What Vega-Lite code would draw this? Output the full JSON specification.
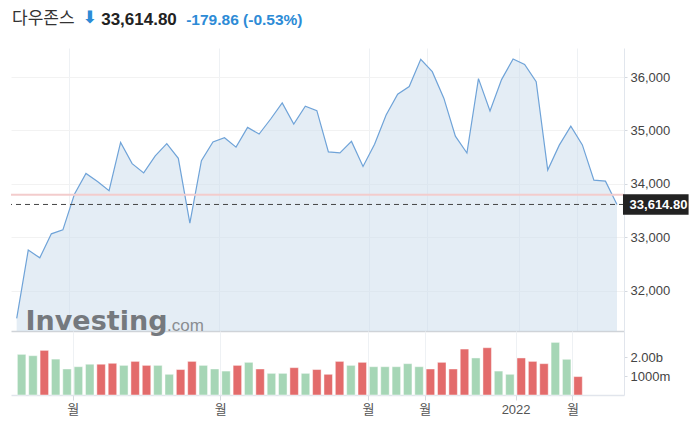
{
  "$schema": "https://vega.github.io/schema/vega-lite/v6.json",
  "padding": {"left": 10, "top": 8, "right": 5, "bottom": 5},
  "background": "white",
  "config": {
    "view": {"stroke": null},
    "font": "Liberation Sans",
    "axis": {"labelFont": "Liberation Sans", "labelFontSize": 13, "labelColor": "#555", "tickColor": "#d5d9df", "domainColor": "#e1e5ec"}
  },
  "title": {"text": "다우존스", "anchor": "start", "font": "Noto Sans CJK KR", "fontSize": 17, "fontWeight": "normal", "color": "#333", "dx": 2, "dy": 20, "offset": 0},
  "datasets": {
    "dow": [
      {"date": "2021-02-28T00:00:00", "close": 31480, "vol": 2140000000, "d": "up"},
      {"date": "2021-03-07T00:00:00", "close": 32760, "vol": 2070000000, "d": "up"},
      {"date": "2021-03-14T00:00:00", "close": 32615, "vol": 2350000000, "d": "down"},
      {"date": "2021-03-21T00:00:00", "close": 33065, "vol": 1890000000, "d": "up"},
      {"date": "2021-03-28T00:00:00", "close": 33140, "vol": 1370000000, "d": "up"},
      {"date": "2021-04-04T00:00:00", "close": 33805, "vol": 1490000000, "d": "up"},
      {"date": "2021-04-11T00:00:00", "close": 34195, "vol": 1620000000, "d": "up"},
      {"date": "2021-04-18T00:00:00", "close": 34043, "vol": 1620000000, "d": "down"},
      {"date": "2021-04-25T00:00:00", "close": 33873, "vol": 1670000000, "d": "down"},
      {"date": "2021-05-02T00:00:00", "close": 34777, "vol": 1560000000, "d": "up"},
      {"date": "2021-05-09T00:00:00", "close": 34380, "vol": 1770000000, "d": "down"},
      {"date": "2021-05-16T00:00:00", "close": 34205, "vol": 1560000000, "d": "down"},
      {"date": "2021-05-23T00:00:00", "close": 34525, "vol": 1560000000, "d": "up"},
      {"date": "2021-05-30T00:00:00", "close": 34753, "vol": 1090000000, "d": "up"},
      {"date": "2021-06-06T00:00:00", "close": 34478, "vol": 1340000000, "d": "down"},
      {"date": "2021-06-13T00:00:00", "close": 33265, "vol": 1770000000, "d": "down"},
      {"date": "2021-06-20T00:00:00", "close": 34435, "vol": 1560000000, "d": "up"},
      {"date": "2021-06-27T00:00:00", "close": 34787, "vol": 1370000000, "d": "up"},
      {"date": "2021-07-04T00:00:00", "close": 34865, "vol": 1260000000, "d": "up"},
      {"date": "2021-07-11T00:00:00", "close": 34688, "vol": 1560000000, "d": "down"},
      {"date": "2021-07-18T00:00:00", "close": 35058, "vol": 1720000000, "d": "up"},
      {"date": "2021-07-25T00:00:00", "close": 34934, "vol": 1370000000, "d": "down"},
      {"date": "2021-08-01T00:00:00", "close": 35215, "vol": 1140000000, "d": "up"},
      {"date": "2021-08-08T00:00:00", "close": 35517, "vol": 1140000000, "d": "up"},
      {"date": "2021-08-15T00:00:00", "close": 35120, "vol": 1440000000, "d": "down"},
      {"date": "2021-08-22T00:00:00", "close": 35456, "vol": 1140000000, "d": "up"},
      {"date": "2021-08-29T00:00:00", "close": 35372, "vol": 1340000000, "d": "down"},
      {"date": "2021-09-05T00:00:00", "close": 34600, "vol": 1090000000, "d": "down"},
      {"date": "2021-09-12T00:00:00", "close": 34580, "vol": 1770000000, "d": "down"},
      {"date": "2021-09-19T00:00:00", "close": 34796, "vol": 1560000000, "d": "up"},
      {"date": "2021-09-26T00:00:00", "close": 34326, "vol": 1720000000, "d": "down"},
      {"date": "2021-10-03T00:00:00", "close": 34742, "vol": 1490000000, "d": "up"},
      {"date": "2021-10-10T00:00:00", "close": 35290, "vol": 1490000000, "d": "up"},
      {"date": "2021-10-17T00:00:00", "close": 35680, "vol": 1490000000, "d": "up"},
      {"date": "2021-10-24T00:00:00", "close": 35822, "vol": 1650000000, "d": "up"},
      {"date": "2021-10-31T00:00:00", "close": 36332, "vol": 1490000000, "d": "up"},
      {"date": "2021-11-07T00:00:00", "close": 36102, "vol": 1370000000, "d": "down"},
      {"date": "2021-11-14T00:00:00", "close": 35605, "vol": 1720000000, "d": "down"},
      {"date": "2021-11-21T00:00:00", "close": 34893, "vol": 1370000000, "d": "down"},
      {"date": "2021-11-28T00:00:00", "close": 34578, "vol": 2420000000, "d": "down"},
      {"date": "2021-12-05T00:00:00", "close": 35972, "vol": 1950000000, "d": "up"},
      {"date": "2021-12-12T00:00:00", "close": 35367, "vol": 2490000000, "d": "down"},
      {"date": "2021-12-19T00:00:00", "close": 35953, "vol": 1260000000, "d": "up"},
      {"date": "2021-12-26T00:00:00", "close": 36340, "vol": 1090000000, "d": "up"},
      {"date": "2022-01-02T00:00:00", "close": 36237, "vol": 1950000000, "d": "down"},
      {"date": "2022-01-09T00:00:00", "close": 35915, "vol": 1770000000, "d": "down"},
      {"date": "2022-01-16T00:00:00", "close": 34258, "vol": 1650000000, "d": "down"},
      {"date": "2022-01-23T00:00:00", "close": 34726, "vol": 2770000000, "d": "up"},
      {"date": "2022-01-30T00:00:00", "close": 35082, "vol": 1880000000, "d": "up"},
      {"date": "2022-02-06T00:00:00", "close": 34730, "vol": 970000000, "d": "down"},
      {"date": "2022-02-13T00:00:00", "close": 34070, "vol": null, "d": "down"},
      {"date": "2022-02-20T00:00:00", "close": 34052, "vol": null, "d": "down"},
      {"date": "2022-02-27T00:00:00", "close": 33614.8, "vol": null, "d": "down"}
    ],
    "ref": [
      {"date": "2022-02-27T00:00:00", "close": 33614.8, "prev": 33794.66, "label": "33,614.80"}
    ]
  },
  "bounds": "flush",
  "spacing": 0,
  "vconcat": [
    {
      "width": 613,
      "height": 283,
      "title": {"text": "Investing", "orient": "bottom", "anchor": "start", "font": "DejaVu Sans", "fontSize": 27, "fontWeight": "bold", "color": "#75797e", "offset": 0, "dx": 15.5, "dy": -22},
      "layer": [
        {
          "data": {"name": "dow"},
          "mark": {"type": "area", "color": "#c9dbec", "opacity": 0.5, "clip": true},
          "encoding": {
            "x": {
              "field": "date", "type": "temporal",
              "scale": {"domain": [{"year": 2021, "month": 2, "date": 24, "hours": 13}, {"year": 2022, "month": 3, "date": 3, "hours": 6}]},
              "axis": {
                "values": [
                  {"year": 2021, "month": 3, "date": 31, "hours": 12},
                  {"year": 2021, "month": 6, "date": 30, "hours": 12},
                  {"year": 2021, "month": 9, "date": 29, "hours": 12},
                  {"year": 2021, "month": 11, "date": 3, "hours": 12},
                  {"year": 2021, "month": 12, "date": 29, "hours": 12},
                  {"year": 2022, "month": 2, "date": 2, "hours": 12}
                ],
                "labels": false, "ticks": false, "grid": true, "gridColor": "#eef1f4",
                "domain": true, "domainColor": "#cfd3d8", "domainWidth": 1.5,
                "title": "-179.86 (-0.53%)", "titleX": 174.7, "titleY": -306.5, "titleAngle": 0,
                "titleAlign": "left", "titleBaseline": "alphabetic", "titleFont": "Liberation Sans",
                "titleFontSize": 15.5, "titleFontWeight": "bold", "titleColor": "#2d8bd6"
              }
            },
            "y": {
              "field": "close", "type": "quantitative",
              "scale": {"domain": [31245, 36545], "zero": false, "nice": false},
              "axis": {
                "orient": "right", "values": [32000, 33000, 34000, 35000, 36000], "format": ",d",
                "grid": true, "gridColor": "#f2f2f2", "tickSize": 3, "labelPadding": 3, "labelColor": "#444",
                "domain": true, "domainColor": "#e1e6ed",
                "title": "33,614.80", "titleX": -523.3, "titleY": -23.7, "titleAngle": 0,
                "titleAlign": "left", "titleBaseline": "alphabetic", "titleFont": "Liberation Sans",
                "titleFontSize": 17, "titleFontWeight": "bold", "titleColor": "#222"
              }
            }
          }
        },
        {
          "data": {"name": "dow"},
          "mark": {"type": "line", "color": "#6fa3d8", "strokeWidth": 1.2},
          "encoding": {
            "x": {"field": "date", "type": "temporal"},
            "y": {"field": "close", "type": "quantitative"}
          }
        },
        {
          "data": {"name": "ref"},
          "mark": {"type": "rule", "color": "#f3cccc", "strokeWidth": 2},
          "encoding": {"y": {"field": "prev", "type": "quantitative"}}
        },
        {
          "data": {"name": "ref"},
          "mark": {"type": "rule", "color": "#444", "strokeWidth": 1, "strokeDash": [5, 4]},
          "encoding": {"y": {"field": "close", "type": "quantitative"}}
        },
        {
          "data": {"name": "ref"},
          "mark": {"type": "rect", "color": "#222", "clip": false, "xOffset": 6, "x2Offset": 71.6, "yOffset": -10.3, "y2Offset": 10.3},
          "encoding": {
            "x": {"field": "date", "type": "temporal"},
            "x2": {"field": "date"},
            "y": {"field": "close", "type": "quantitative"},
            "y2": {"field": "close"}
          }
        },
        {
          "data": {"name": "ref"},
          "mark": {"type": "text", "color": "white", "font": "Liberation Sans", "fontWeight": "bold", "fontSize": 13, "align": "left", "baseline": "middle", "dx": 12.6, "dy": 0.5, "clip": false},
          "encoding": {
            "x": {"field": "date", "type": "temporal"},
            "y": {"field": "close", "type": "quantitative"},
            "text": {"field": "label"}
          }
        }
      ]
    },
    {
      "width": 613,
      "height": 64,
      "data": {"name": "dow"},
      "mark": {"type": "bar", "width": 8.5, "stroke": "white", "strokeOpacity": 0.45, "strokeWidth": 1},
      "encoding": {
        "x": {
          "field": "date", "type": "temporal",
          "scale": {"domain": [{"year": 2021, "month": 2, "date": 24, "hours": 13}, {"year": 2022, "month": 3, "date": 3, "hours": 6}]},
          "axis": {
            "values": [
              {"year": 2021, "month": 3, "date": 31, "hours": 12},
              {"year": 2021, "month": 6, "date": 30, "hours": 12},
              {"year": 2021, "month": 9, "date": 29, "hours": 12},
              {"year": 2021, "month": 11, "date": 3, "hours": 12},
              {"year": 2021, "month": 12, "date": 29, "hours": 12},
              {"year": 2022, "month": 2, "date": 2, "hours": 12}
            ],
            "labelExpr": "month(datum.value) == 11 ? '2022' : '월'",
            "labelFont": "Liberation Sans, Noto Sans CJK KR", "labelFontSize": 13, "labelColor": "#555",
            "labelOverlap": false, "labelFlush": false,
            "tickSize": 5, "labelPadding": 3, "grid": true, "gridColor": "#eef1f4",
            "domainColor": "#e1e5ec", "domainWidth": 1.5,
            "title": ".com", "titleX": 155.5, "titleY": -65, "titleAngle": 0,
            "titleAlign": "left", "titleBaseline": "alphabetic", "titleFont": "Liberation Sans",
            "titleFontSize": 17, "titleFontWeight": "normal", "titleColor": "#8a8d91"
          }
        },
        "y": {
          "field": "vol", "type": "quantitative",
          "scale": {"domain": [0, 3370000000], "nice": false},
          "axis": {
            "orient": "right", "values": [1000000000, 2000000000],
            "labelExpr": "datum.value >= 2000000000 ? '2.00b' : '1000m'",
            "grid": false, "tickSize": 3, "labelPadding": 3, "labelColor": "#444",
            "domainColor": "#e1e5ec",
            "title": "⬇", "titleX": -534.7, "titleY": -314, "titleAngle": 0,
            "titleAlign": "center", "titleBaseline": "middle", "titleFont": "DejaVu Sans",
            "titleFontSize": 17, "titleFontWeight": "bold", "titleColor": "#2d8bd6"
          }
        },
        "color": {
          "field": "d", "type": "nominal",
          "scale": {"domain": ["up", "down"], "range": ["#a6d6b6", "#e36b6b"]},
          "legend": null
        }
      }
    }
  ]
}
